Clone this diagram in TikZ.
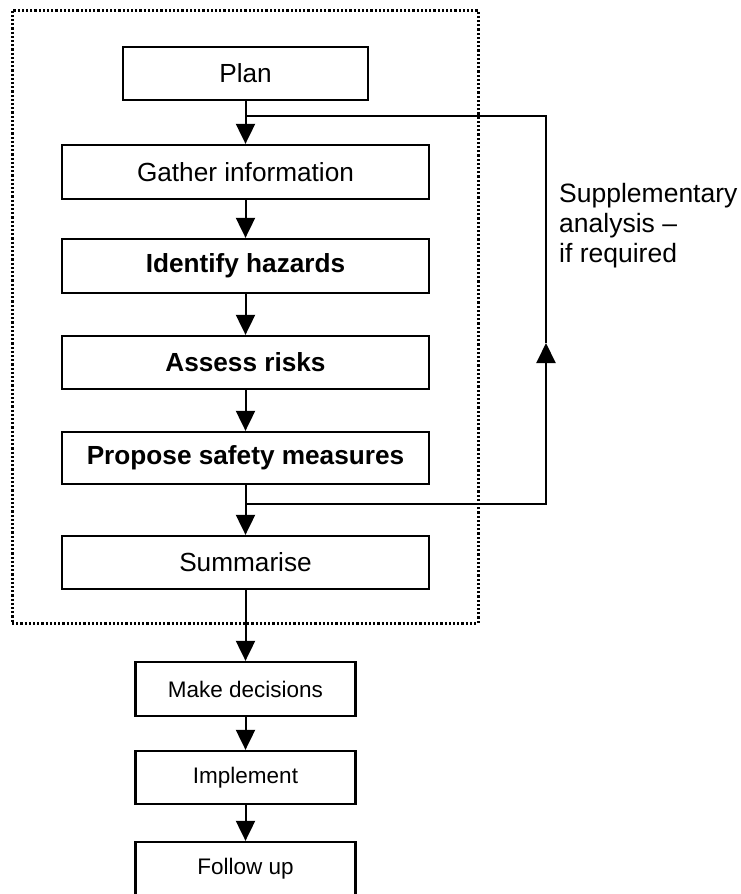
\documentclass[tikz,border=0pt]{standalone}
\usepackage{fontspec}
\setmainfont{Liberation Sans}
\usetikzlibrary{arrows.meta}
\tikzset{
  stepbox/.style={draw, line width=2.3pt, inner sep=0pt, align=center,
    minimum width=367pt, font=\fontsize{26.2}{30}\selectfont},
  smallbox/.style={draw, line width=2.3pt, inner sep=0pt, align=center,
    minimum width=220pt, minimum height=53pt, font=\fontsize{22.5}{26}\selectfont},
  flow/.style={line width=2pt, -{Triangle[length=20pt,width=19pt]}},
  plain/.style={line width=2pt},
  dotbox/.style={draw, line width=3pt, dash pattern=on 2.2pt off 2pt, inner sep=0pt},
}
\begin{document}
\begin{tikzpicture}[x=1pt,y=-1pt]
\useasboundingbox (0,0) rectangle (741,894);
% dotted frame
\node[dotbox, minimum width=466pt, minimum height=613pt] (frame) at (245,316.5) {};
% main steps
\node[stepbox, minimum width=245pt, minimum height=53pt] (plan) at (245.5,73.5) {Plan};
\node[stepbox, minimum height=54pt] (gather) at (245.5,172) {Gather information};
\node[stepbox, minimum height=54pt] (identify) at (245.5,266) {\bfseries Identify hazards};
\node[stepbox, minimum height=53pt] (assess) at (245.5,362.5) {\bfseries Assess risks};
\node[stepbox, minimum height=52pt] (propose) at (245.5,458) {\bfseries Propose safety measures};
\node[stepbox, minimum height=53pt] (summ) at (245.5,562.5) {Summarise};
% after the frame
\node[smallbox, minimum height=54pt] (decide) at (245.5,689) {Make decisions};
\node[smallbox] (impl) at (245.5,777.5) {Implement};
\node[smallbox] (follow) at (245.5,868.5) {Follow up};
% junctions of the feedback loop
\coordinate (j1) at (245.5,116);
\coordinate (j2) at (245.5,504);
\coordinate (c1) at (546,116);
\coordinate (c2) at (546,504);
\coordinate (cm) at (546,343);
% connectors
\draw[plain] (plan.south) -- (j1);
\draw[flow] (j1) -- (gather.north);
\draw[flow] (gather.south) -- (identify.north);
\draw[flow] (identify.south) -- (assess.north);
\draw[flow] (assess.south) -- (propose.north);
\draw[plain] (propose.south) -- (j2);
\draw[flow] (j2) -- (summ.north);
\draw[flow] (summ.south) -- (decide.north);
\draw[flow] (decide.south) -- (impl.north);
\draw[flow] (impl.south) -- (follow.north);
% feedback loop
\draw[flow] (j2) -- (c2) -- (cm);
\draw[plain] (cm) -- (c1) -- (j1);
% label
\node[anchor=north west, inner sep=0pt, align=left,
  font=\fontsize{26.5}{30}\selectfont] (supp) at (559,183)
  {Supplementary\\analysis –\\if required};
\end{tikzpicture}
\end{document}
